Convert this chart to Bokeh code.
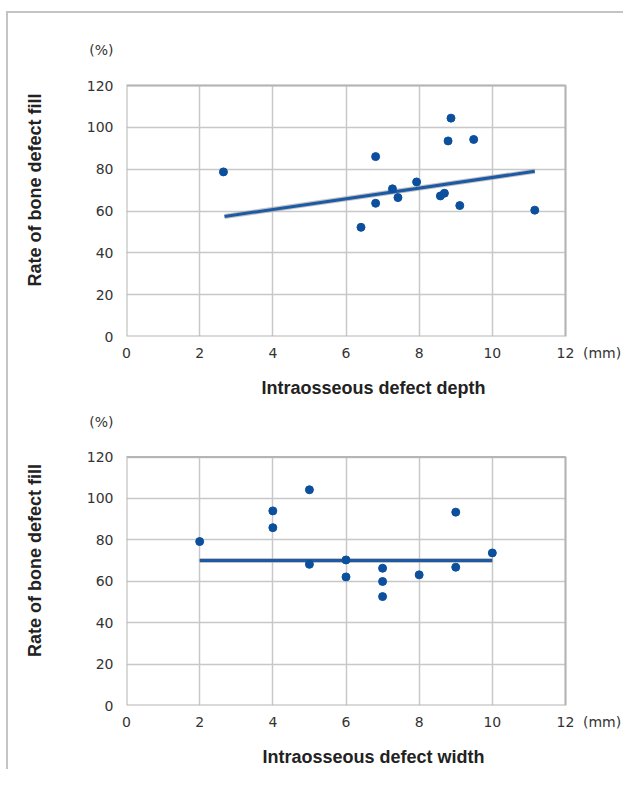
from bokeh.plotting import figure
from bokeh.models import FixedTicker
from bokeh.layouts import column
from bokeh.embed import file_html
from bokeh.resources import INLINE

# ---- data ----
depth_x = [2.65, 6.81, 6.41, 6.81, 7.27, 7.42, 7.93, 8.58, 8.69, 8.79, 8.87, 9.11, 9.49, 11.16]
depth_y = [78.7, 86.0, 52.2, 63.7, 70.6, 66.4, 73.9, 67.2, 68.5, 93.5, 104.4, 62.6, 94.2, 60.4]
depth_trend_x = [2.68, 11.16]
depth_trend_y = [57.4, 79.0]

width_x = [2, 4, 4, 5, 5, 6, 6, 7, 7, 7, 8, 9, 9, 10]
width_y = [79.2, 94.0, 85.9, 104.2, 68.2, 70.3, 62.1, 66.3, 59.9, 52.6, 63.1, 93.4, 66.8, 73.7]
width_trend_x = [2, 10]
width_trend_y = [70.0, 70.0]

x_ticks = [0, 2, 4, 6, 8, 10, 12]
y_ticks = [0, 20, 40, 60, 80, 100, 120]
y_title = "Rate of bone defect fill"
x_titles = ["Intraosseous defect depth", "Intraosseous defect width"]
unit_x = "(mm)"
unit_y = "(%)"

# layout constants (unit captions sit on extra axis ticks beyond the box)
UNIT_X_POS = 13
UNIT_Y_POS = 137
FRAME_W = 494
FRAME_H = 293
X_END = 12 * FRAME_W / 439
Y_END = 120 * FRAME_H / 251

PT = "#0b4f9d"
LINE = "#1d5aa6"
GRID = "#c8c8c8"
BOX = "#b5b5b5"
TXT = "#333333"


def make(xs, ys, tx, ty, xtitle, height, top, bottom):
    p = figure(width=615, height=height, x_range=(0, X_END), y_range=(0, Y_END),
               output_backend="svg", toolbar_location=None,
               min_border_left=118, min_border_right=615 - 118 - FRAME_W,
               min_border_top=top, min_border_bottom=bottom)
    p.outline_line_color = None
    p.background_fill_color = "white"
    p.border_fill_color = "white"
    for ax in (p.xaxis[0], p.yaxis[0]):
        ax.axis_line_color = None
        ax.major_tick_line_color = None
        ax.minor_tick_line_color = None
        ax.major_label_text_font = "DejaVu Sans"
        ax.major_label_text_font_size = "14px"
        ax.major_label_text_color = TXT
        ax.axis_label_text_font = "Liberation Sans"
        ax.axis_label_text_font_style = "bold"
        ax.axis_label_text_font_size = "18px"
        ax.axis_label_text_color = "#222222"
    p.xaxis.ticker = FixedTicker(ticks=x_ticks + [UNIT_X_POS])
    p.yaxis.ticker = FixedTicker(ticks=y_ticks + [UNIT_Y_POS])
    p.xaxis.major_label_overrides = {UNIT_X_POS: unit_x}
    p.yaxis.major_label_overrides = {UNIT_Y_POS: unit_y}
    p.xaxis.major_label_standoff = 2
    p.yaxis.major_label_standoff = 7
    p.xaxis.axis_label = xtitle
    p.yaxis.axis_label = y_title
    p.xaxis.axis_label_standoff = 14
    p.yaxis.axis_label_standoff = 39
    p.grid.grid_line_color = GRID
    p.grid.grid_line_width = 1.5
    p.xgrid.ticker = FixedTicker(ticks=x_ticks)
    p.ygrid.ticker = FixedTicker(ticks=y_ticks)
    p.xgrid.cross_bounds = (y_ticks[0], y_ticks[-1])
    p.ygrid.cross_bounds = (x_ticks[0], x_ticks[-1])

    p.quad(left=[x_ticks[0]], right=[x_ticks[-1]], bottom=[y_ticks[0]], top=[y_ticks[-1]],
           fill_color=None, line_color=BOX, line_width=2)

    p.line(tx, ty, line_color="#9a9a9a", line_width=5, line_alpha=0.6)
    p.line(tx, ty, line_color=LINE, line_width=3)
    p.scatter(xs, ys, size=8, fill_color=PT, line_color=PT)
    return p


p1 = make(depth_x, depth_y, depth_trend_x, depth_trend_y, x_titles[0], 387, 30, 64)
p2 = make(width_x, width_y, width_trend_x, width_trend_y, x_titles[1], 369, 15, 61)

layout = column(p1, p2, spacing=0,
                styles={"margin-left": "6px", "margin-top": "11px",
                        "border-left": "2px solid #c4c4c4",
                        "border-top": "2px solid #c4c4c4"})

open("out.html", "w").write(file_html(layout, INLINE))
